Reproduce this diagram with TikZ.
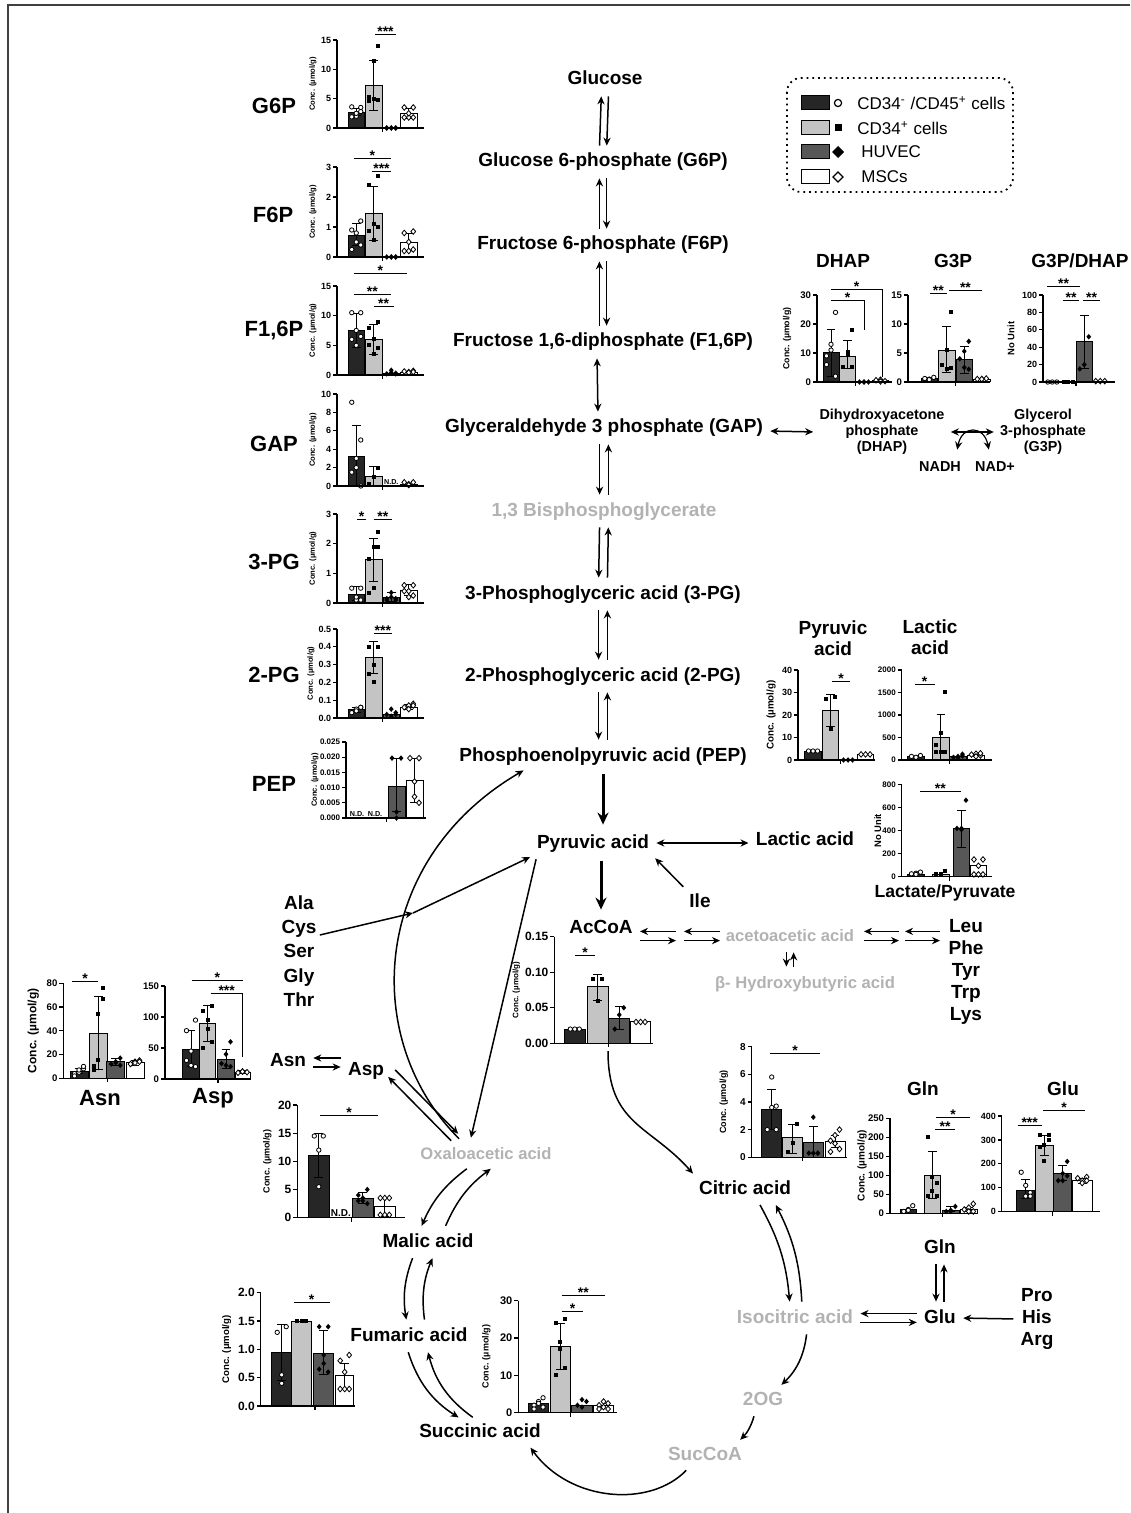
\documentclass[tikz,border=0pt]{standalone}
\usepackage{fontspec}
\setmainfont{Liberation Sans}
\usetikzlibrary{arrows.meta}
\definecolor{cdA}{HTML}{262626}
\definecolor{cdB}{HTML}{C4C4C4}
\definecolor{cdC}{HTML}{575757}
\definecolor{faded}{HTML}{B2B2B2}
\tikzset{
  >={Stealth[length=4pt,width=3.6pt]},
  met/.style={font=\fontsize{9.5}{11}\selectfont\bfseries, text height=7pt, text depth=2pt, inner sep=1.5pt},
  metg/.style={met, text=faded},
  metl/.style={met, text=faded, font=\fontsize{8.3}{10}\selectfont\bfseries},
  mets/.style={font=\fontsize{9.5}{11}\selectfont\bfseries, align=center, inner sep=1.5pt},
  smet/.style={font=\fontsize{7.2}{8}\selectfont\bfseries, align=center, inner sep=1pt},
  ttl/.style={font=\fontsize{11}{13}\selectfont\bfseries},
  leg/.style={font=\fontsize{8.5}{10}\selectfont, anchor=west, inner sep=0pt},
  rx/.style={->, line width=0.75pt, shorten >=2pt, shorten <=2pt},
  rxs/.style={->, line width=0.75pt},
  rxx/.style={rx, <->},
  big/.style={-{Stealth[length=6pt,width=5.5pt]}, line width=1.5pt, shorten >=3pt, shorten <=3pt},
  axl/.style={line width=0.55pt},
  barA/.style={draw=black, fill=cdA, line width=0.5pt},
  barB/.style={draw=black, fill=cdB, line width=0.5pt},
  barC/.style={draw=black, fill=cdC, line width=0.5pt},
  barD/.style={draw=black, fill=white, line width=0.5pt},
  errb/.style={line width=0.5pt},
  sigl/.style={line width=0.5pt},
  tick/.style={font=\fontsize{\tfs}{\tfs}\selectfont\bfseries, anchor=east, inner sep=0.7pt},
  ylab/.style={font=\fontsize{\yfs}{\yfs}\selectfont\bfseries, rotate=90},
  star/.style={font=\fontsize{7}{7}\selectfont\bfseries, anchor=south, inner sep=0pt, yshift=-1.2pt},
  nd/.style={font=\fontsize{3.6}{4}\selectfont\bfseries, anchor=south, inner sep=0.6pt},
}
% chart helpers: data coordinates inside a shifted scope
\newcommand{\tfs}{4.5}
\newcommand{\yfs}{3.8}
\newcommand{\cn}{c}
\newcounter{sgc}
\newcommand{\cbar}[4]{\draw[#1] (#2,0) rectangle ++(#3,#4);}
\newcommand{\ebar}[3]{\draw[errb] (#1,#2) -- (#1,#3) ++(-2.2pt,0pt) -- ++(4.4pt,0pt) (#1,#2) ++(-2.2pt,0pt) -- ++(4.4pt,0pt);}
\newcommand{\ptA}[2]{\draw[fill=white, line width=0.4pt] (#1,#2) circle (1.1pt);}
\newcommand{\ptB}[2]{\fill (#1,#2) ++(-1pt,-1pt) rectangle ++(2pt,2pt);}
\newcommand{\ptC}[2]{\fill (#1,#2) ++(0pt,1.4pt) -- ++(1.2pt,-1.4pt) -- ++(-1.2pt,-1.4pt) -- ++(-1.2pt,1.4pt) -- cycle;}
\newcommand{\ptD}[2]{\draw[fill=white, line width=0.4pt] (#1,#2) ++(0pt,1.4pt) -- ++(1.2pt,-1.4pt) -- ++(-1.2pt,-1.4pt) -- ++(-1.2pt,1.4pt) -- cycle;}
\newcommand{\pts}[3]{\foreach \v [count=\i] in {#3}{\pgfmathsetmacro\dx{#2+mod(\i,3)*4.5-4.5}\csname pt#1\endcsname{\dx}{\v}}}
\newcommand{\yax}[2]{\draw[axl] (0,#1) -- (0,0);
  \foreach \v/\l [count=\k] in {#2}{\draw[axl] (0,\v) -- ++(-2pt,0pt) node[tick] (\cn t\k) {\l};}}
\newcommand{\xax}[2]{\draw[axl] (0,0) -- (#1,0) (#2,0) -- ++(0pt,-2pt);}
\newcommand{\sig}[4]{\stepcounter{sgc}\draw[sigl] (#1,#3) -- node[star] (sg\arabic{sgc}) {#4} (#2,#3);}
\newcommand{\sigd}[5]{\stepcounter{sgc}\draw[sigl] (#1,#3) -- node[star] (sg\arabic{sgc}) {#5} (#2,#3) -- (#2,#4);}

\begin{document}
\begin{tikzpicture}[x=0.5pt, y=-0.5pt]
\useasboundingbox (0,0) rectangle (1130,1513);
\draw[line width=0.6pt, black!75] (8,1513) -- (8,5) -- (1130,5);

% legend
\draw[dotted, line width=0.9pt, rounded corners=7pt] (787,78) rectangle (1013,192);
\draw[barA] (801,96) rectangle (829,110);
\draw[fill=white, line width=0.6pt] (838,103) circle (1.8pt);
\node[leg] (lg1) at (857,103) {CD34\textsuperscript{-} /CD45\textsuperscript{+} cells};
\draw[barB] (801,121) rectangle (829,135);
\fill (834.5,124.5) rectangle (841.5,131.5);
\node[leg] (lg2) at (857,128) {CD34\textsuperscript{+} cells};
\draw[barC] (801,145) rectangle (829,159);
\fill (838,146) -- (844,152) -- (838,158) -- (832,152) -- cycle;
\node[leg] (lg3) at (861,152) {HUVEC};
\draw[barD] (801,170) rectangle (829,184);
\draw[fill=white, line width=0.6pt] (838,172) -- (843,177) -- (838,182) -- (833,177) -- cycle;
\node[leg] (lg4) at (861,177) {MSCs};

% pathway
\node[met] (glc) at (605,80) {Glucose};
\node[met] (g6p) at (603,162) {Glucose 6-phosphate (G6P)};
\node[met] (f6p) at (603,245) {Fructose 6-phosphate (F6P)};
\node[met] (f16p) at (603,342) {Fructose 1,6-diphosphate (F1,6P)};
\node[met] (gap) at (604,428) {Glyceraldehyde 3 phosphate (GAP)};
\node[metg] (bpg) at (604,511) {1,3 Bisphosphoglycerate};
\node[met] (pg3) at (603,594) {3-Phosphoglyceric acid (3-PG)};
\node[met] (pg2) at (603,676) {2-Phosphoglyceric acid (2-PG)};
\node[met] (pep) at (603,756) {Phosphoenolpyruvic acid (PEP)};
\node[met] (pyr) at (593,843) {Pyruvic acid};
\node[met] (lac) at (805,840) {Lactic acid};
\node[met] (accoa) at (601,928) {AcCoA};
\node[metl] (acac) at (790,936) {acetoacetic acid};
\node[metl] (bhb) at (805,983) {β- Hydroxybutyric acid};
\node[mets] (leu) at (966,972) {Leu\\Phe\\Tyr\\Trp\\Lys};
\node[mets, font=\fontsize{9.5}{12.1}\selectfont\bfseries] (aa) at (299,951) {Ala\\Cys\\Ser\\Gly\\Thr};
\node[met] (ile) at (700,902) {Ile};
\node[met] (asn) at (288,1061) {Asn};
\node[met] (asp) at (366,1070) {Asp};
\node[metl] (oaa) at (486,1154) {Oxaloacetic acid};
\node[met] (cit) at (745,1189) {Citric acid};
\node[met] (mal) at (428,1242) {Malic acid};
\node[met] (fum) at (409,1336) {Fumaric acid};
\node[met] (suc) at (480,1432) {Succinic acid};
\node[metg] (iso) at (795,1318) {Isocitric acid};
\node[metg] (og) at (763,1400) {2OG};
\node[metg] (scoa) at (705,1455) {SucCoA};
\node[met] (gln) at (940,1248) {Gln};
\node[met] (glu) at (940,1318) {Glu};
\node[mets] (pha) at (1037,1319) {Pro\\His\\Arg};
\node[smet] (dhap) at (882,432) {Dihydroxyacetone\\phosphate\\(DHAP)};
\node[smet] (g3p) at (1043,432) {Glycerol\\3-phosphate\\(G3P)};
\node[smet] (nadh) at (940,467) {NADH};
\node[smet] (nadp) at (995,467) {NAD+};

% glycolysis arrows
\draw[rx] ([xshift=-1.8pt]g6p.north) -- ([xshift=-1.8pt]glc.south);
\draw[rx] ([xshift=1.8pt]glc.south) -- ([xshift=1.8pt]g6p.north);
\draw[rx] ([xshift=-1.8pt]f6p.north) -- ([xshift=-1.8pt]g6p.south);
\draw[rx] ([xshift=1.8pt]g6p.south) -- ([xshift=1.8pt]f6p.north);
\draw[rx] ([xshift=-1.8pt]f16p.north) -- ([xshift=-1.8pt]f6p.south);
\draw[rx] ([xshift=1.8pt]f6p.south) -- ([xshift=1.8pt]f16p.north);
\draw[rxx] ([xshift=-3pt]f16p.south) -- ([xshift=-3pt]gap.north);
\draw[rx] ([xshift=-2.2pt]gap.south) -- ([xshift=-2.2pt]bpg.north);
\draw[rx] ([xshift=2.2pt]bpg.north) -- ([xshift=2.2pt]gap.south);
\draw[rx] ([xshift=-2.2pt]bpg.south) -- ([xshift=-2.2pt]pg3.north);
\draw[rx] ([xshift=2.2pt]pg3.north) -- ([xshift=2.2pt]bpg.south);
\draw[rx] ([xshift=-2.2pt]pg3.south) -- ([xshift=-2.2pt]pg2.north);
\draw[rx] ([xshift=2.2pt]pg2.north) -- ([xshift=2.2pt]pg3.south);
\draw[rx] ([xshift=-2.2pt]pg2.south) -- ([xshift=-2.2pt]pep.north);
\draw[rx] ([xshift=2.2pt]pep.north) -- ([xshift=2.2pt]pg2.south);
\draw[big] (pep.south) -- (pep.south |- pyr.north);
\draw[big] (accoa.north |- pyr.south) -- (accoa.north);
\draw[rxx] (pyr.east) -- (pyr.east -| lac.west);
\draw[rxx] ([yshift=-1.5pt]gap.east) -- (dhap.west);
\draw[rxx] (dhap.east) -- (g3p.west);
\draw[<->, line width=0.6pt] ([xshift=-3pt,yshift=5pt]nadh.north east) .. controls (962,425) and (984,425) .. ([xshift=8pt,yshift=5pt]nadp.north west);

% ketone bodies
\coordinate (ka1) at (640,936); \coordinate (ka2) at (676,936);
\coordinate (ka3) at (684,936); \coordinate (ka4) at (720,936);
\coordinate (kb1) at (864,936); \coordinate (kb2) at (899,936);
\coordinate (kb3) at (905,936); \coordinate (kb4) at (940,936);
\draw[rxs] ([yshift=2.3pt]ka2) -- ([yshift=2.3pt]ka1);
\draw[rxs] ([yshift=-2.3pt]ka1) -- ([yshift=-2.3pt]ka2);
\draw[rxs] ([yshift=2.3pt]ka4) -- ([yshift=2.3pt]ka3);
\draw[rxs] ([yshift=-2.3pt]ka3) -- ([yshift=-2.3pt]ka4);
\draw[rxs] ([yshift=2.3pt]kb2) -- ([yshift=2.3pt]kb1);
\draw[rxs] ([yshift=-2.3pt]kb1) -- ([yshift=-2.3pt]kb2);
\draw[rxs] ([yshift=2.3pt]kb4) -- ([yshift=2.3pt]kb3);
\draw[rxs] ([yshift=-2.3pt]kb3) -- ([yshift=-2.3pt]kb4);
\path (acac.south |- bhb.north) coordinate (bhbn);
\draw[rx] ([xshift=-1.8pt]acac.south) -- ([xshift=-1.8pt]bhbn);
\draw[rx] ([xshift=1.8pt]bhbn) -- ([xshift=1.8pt]acac.south);

% amino acids and oxaloacetate links
\draw[rx] (ile.north west) -- (pyr.south east);
\coordinate (aam) at (413,913);
\draw[rxs] ([yshift=8pt]aa.east) -- (aam);
\draw[rx, shorten <=0pt] (aam) -- (pyr.south west);
\draw[rx] ([xshift=-12pt]oaa.north) .. controls (360,1040) and (370,860) .. ([xshift=-38pt]pep.south);
\draw[rx] ([xshift=-28pt]pyr.south) -- ([xshift=-8pt]oaa.north);
\draw[rx] ([xshift=-16pt,yshift=-1pt]oaa.north) -- ([xshift=-1pt,yshift=-2pt]asp.east);
\draw[rx] ([xshift=2.5pt,yshift=1.5pt]asp.east) -- ([xshift=-12.5pt,yshift=2.5pt]oaa.north);
\draw[rx] ([yshift=6pt]asp.west) -- ([yshift=1.5pt]asn.east);
\draw[rx] ([yshift=-3pt]asn.east) -- ([yshift=1.5pt]asp.west);

% TCA cycle
\coordinate (acbot) at (608,1047);
\draw[rx] (acbot) .. controls (608,1125) and (650,1125) .. (cit.north west);
\draw[rx] ([xshift=6.5pt]cit.south) to[bend left=12] ([xshift=-2.5pt]iso.north);
\draw[rx] ([xshift=3.5pt]iso.north) to[bend right=12] ([xshift=14.5pt]cit.south);
\draw[rx] ([xshift=6pt]iso.south) to[bend left=20] ([xshift=-4pt]og.north east);
\draw[rx] ([xshift=-4pt]og.south) to[bend left=15] ([xshift=-4pt]scoa.north east);
\draw[rx] ([xshift=-8pt]scoa.south) .. controls (650,1508) and (570,1502) .. ([xshift=-8pt]suc.south east);
\draw[rx] ([xshift=-1pt]fum.south) to[bend right=20] ([xshift=-9pt]suc.north);
\draw[rx] ([xshift=-2pt]suc.north) to[bend left=20] ([xshift=9pt]fum.south);
\draw[rx] ([xshift=-7pt]mal.south) to[bend right=15] ([xshift=-1pt]fum.north);
\draw[rx] ([xshift=8pt]fum.north) to[bend left=15] ([xshift=3pt]mal.south);
\draw[rx] ([xshift=-8pt]oaa.south) to[bend right=15] ([xshift=-4pt]mal.north);
\draw[rx] ([xshift=8pt]mal.north) to[bend left=15] ([xshift=4pt]oaa.south);
\draw[rx] ([xshift=-2pt]gln.south) -- ([xshift=-2pt]glu.north);
\draw[rx] ([xshift=2pt]glu.north) -- ([xshift=2pt]gln.south);
\draw[rx] ([yshift=2.2pt]glu.west) -- ([yshift=2.2pt]iso.east);
\draw[rx] ([yshift=-2.2pt]iso.east) -- ([yshift=-2.2pt]glu.west);
\draw[rx] (pha.west) -- (glu.east);

% ---- G6P
\node[ttl] (tg6p) at (274,106) {G6P};
\begin{scope}[shift={(337,128)}, y=2.933pt]
\def\cn{g6pc}
\cbar{barA}{11}{16.5}{2.7}\cbar{barB}{28.5}{16.5}{7.2}\cbar{barC}{46}{16.5}{0.05}\cbar{barD}{63.5}{16.5}{2.4}
\ebar{19.25}{2.1}{3.3}\ebar{36.75}{2.9}{11.5}\ebar{71.75}{1.6}{3.3}
\pts{A}{19.25}{2.0,2.8,3.6,2.5,3.5,1.9}
\pts{B}{36.75}{5.0,14,4.6,11.5,4.8,5.2}
\pts{C}{54.25}{0,0,0,0,0,0}
\pts{D}{71.75}{1.8,3.5,3.5,2.5,1.8,1.8}
\yax{15}{0/0,5/5,10/10,15/15}\xax{87}{45.5}
\sig{38}{59}{15.9}{***}
\node[ylab] (\cn y) at (-24,7.5) {Conc. (µmol/g)};
\end{scope}

% ---- F6P
\node[ttl] (tf6p) at (273,215) {F6P};
\begin{scope}[shift={(337,257)}, y=15pt]
\def\cn{f6pc}
\cbar{barA}{11}{16.5}{0.72}\cbar{barB}{28.5}{16.5}{1.45}\cbar{barC}{46}{16.5}{0.03}\cbar{barD}{63.5}{16.5}{0.47}
\ebar{19.25}{0.38}{1.1}\ebar{36.75}{0.55}{2.35}\ebar{71.75}{0.2}{0.78}
\pts{A}{19.25}{0.5,1.2,0.25,0.8,0.4,0.9}
\pts{B}{36.75}{1.1,2.7,2.4,0.55,1.0,0.85}
\pts{C}{54.25}{0,0,0,0,0}
\pts{D}{71.75}{0.5,0.85,0.8,0.2,0.25,0.2}
\yax{3}{0/0,1/1,2/2,3/3}\xax{87}{45.5}
\sig{16.6}{54}{3.29}{*}\sig{35}{54}{2.84}{***}
\node[ylab] (\cn y) at (-24,1.5) {Conc. (µmol/g)};
\end{scope}

% ---- F1,6P
\node[ttl] (tf16p) at (274,331) {F1,6P};
\begin{scope}[shift={(337,375)}, y=2.967pt]
\def\cn{fbpc}
\cbar{barA}{11}{16.5}{7.5}\cbar{barB}{28.5}{16.5}{6.0}\cbar{barC}{46}{16.5}{0.3}\cbar{barD}{63.5}{16.5}{0.5}
\ebar{19.25}{4.7}{10.3}\ebar{36.75}{3.4}{8.5}
\pts{A}{19.25}{7.5,10.5,10.5,5.0,6.5,6.0}
\pts{B}{36.75}{6.0,9.0,8.0,3.5,4.5,5.0}
\pts{C}{54.25}{0.8,0.3,0.2,0.4,0.2}
\pts{D}{71.75}{0.5,0.7,0.6,0.4,0.5}
\yax{15}{0/0,5/5,10/10,15/15}\xax{87}{45.5}
\sig{16.6}{70}{17.1}{*}\sig{16.6}{54}{13.5}{**}\sig{36.6}{56.6}{11.6}{**}
\node[ylab] (\cn y) at (-24,7.5) {Conc. (µmol/g)};
\end{scope}

% ---- GAP
\node[ttl] (tgap) at (274,444) {GAP};
\begin{scope}[shift={(337,486)}, y=4.6pt]
\def\cn{gapc}
\cbar{barA}{11}{16.5}{3.2}\cbar{barB}{28.5}{16.5}{1.0}\cbar{barD}{63.5}{16.5}{0.2}
\ebar{19.25}{0}{6.6}\ebar{36.75}{0}{2.1}
\pts{A}{19.25}{3.0,5.0,9.1,2.0,0.0,1.5}
\pts{B}{36.75}{1.0,2.0,0.2}
\pts{D}{71.75}{0.2,0.4,0.4,0.1}
\node[nd] (\cn n) at (54.25,0) {N.D.};
\yax{10}{0/0,2/2,4/4,6/6,8/8,10/10}\xax{87}{45.5}
\node[ylab] (\cn y) at (-24,5) {Conc. (µmol/g)};
\end{scope}

% ---- 3-PG
\node[ttl] (tpg3) at (274,562) {3-PG};
\begin{scope}[shift={(337,603)}, y=14.83pt]
\def\cn{pgcc}
\cbar{barA}{11}{16.5}{0.3}\cbar{barB}{28.5}{16.5}{1.45}\cbar{barC}{46}{16.5}{0.17}\cbar{barD}{63.5}{16.5}{0.42}
\ebar{19.25}{0.1}{0.55}\ebar{36.75}{0.72}{2.18}\ebar{54.25}{0.05}{0.35}\ebar{71.75}{0.25}{0.62}
\pts{A}{19.25}{0.1,0.5,0.5,0.2,0.1}
\pts{B}{36.75}{1.9,2.4,1.5,0.5,1.9,0.35}
\pts{C}{54.25}{0.35,0.15,0.1,0.2,0.1,0.15}
\pts{D}{71.75}{0.4,0.6,0.6,0.2,0.25,0.4}
\yax{3}{0/0,1/1,2/2,3/3}\xax{87}{45.5}
\sig{20}{29}{2.8}{*}\sig{36.6}{55}{2.8}{**}
\node[ylab] (\cn y) at (-24,1.5) {Conc. (µmol/g)};
\end{scope}

% ---- 2-PG
\node[ttl] (tpg2) at (274,675) {2-PG};
\begin{scope}[shift={(337,718)}, y=89pt]
\def\cn{pgbc}
\cbar{barA}{11}{16.5}{0.045}\cbar{barB}{28.5}{16.5}{0.34}\cbar{barC}{46}{16.5}{0.02}\cbar{barD}{63.5}{16.5}{0.06}
\ebar{19.25}{0.03}{0.06}\ebar{36.75}{0.25}{0.43}\ebar{71.75}{0.045}{0.075}
\pts{A}{19.25}{0.05,0.06,0.03,0.04,0.06}
\pts{B}{36.75}{0.30,0.40,0.40,0.20,0.40,0.25}
\pts{C}{54.25}{0.05,0.03,0.02,0.01,0.02}
\pts{D}{71.75}{0.07,0.08,0.06,0.05,0.07}
\yax{0.5}{0/0.0,0.1/0.1,0.2/0.2,0.3/0.3,0.4/0.4,0.5/0.5}\xax{87}{45.5}
\sig{36.6}{55}{0.476}{***}
\node[ylab] (\cn y) at (-26,0.25) {Conc. (µmol/g)};
\end{scope}

% ---- PEP
\node[ttl] (tpep) at (274,784) {PEP};
\begin{scope}[shift={(346,818)}, y=1520pt]
\def\cn{pepc}\def\tfs{4}
\cbar{barC}{42}{17}{0.0105}\cbar{barD}{60}{17}{0.0122}
\ebar{50.5}{0.002}{0.0197}\ebar{68.5}{0.005}{0.0197}
\pts{C}{50.5}{0.002,0.0197,0.0197,0.0}
\pts{D}{68.5}{0.012,0.0197,0.0197,0.007,0.005}
\node[nd] (\cn n1) at (11,0) {N.D.}; \node[nd] (\cn n2) at (29,0) {N.D.};
\yax{0.025}{0/0.000,0.005/0.005,0.010/0.010,0.015/0.015,0.020/0.020,0.025/0.025}\xax{80}{40.7}
\node[ylab] (\cn y) at (-31,0.0125) {Conc. (µmol/g)};
\end{scope}

% ---- DHAP
\node[met] (tdhap) at (843,263) {DHAP};
\begin{scope}[shift={(817,382)}, y=1.45pt]
\def\cn{dhc}\def\tfs{4.8}\def\yfs{4.4}
\cbar{barA}{6}{16}{10}\cbar{barB}{22.5}{16}{8.8}\cbar{barD}{55.5}{16}{0.5}
\ebar{14}{2}{18}\ebar{30.5}{4.5}{14.2}
\pts{A}{14}{13,24,6,11,2,9}
\pts{B}{30.5}{10.5,18,5,9.5,5}
\pts{C}{47}{0,0,0,0}
\pts{D}{63.5}{0.8,0.3,0.6,0.2}
\yax{30}{0/0,10/10,20/20,30/30}\xax{75}{38.5}
\sigd{14}{65}{32}{1.8}{*}\sigd{14}{47.3}{28}{18}{*}
\node[ylab] (\cn y) at (-30,15) {Conc. (µmol/g)};
\end{scope}

% ---- G3P
\node[met] (tg3p) at (953,263) {G3P};
\begin{scope}[shift={(908,382)}, y=2.9pt]
\def\cn{g3c}\def\tfs{4.8}
\cbar{barA}{13}{16.5}{0.6}\cbar{barB}{30.5}{16.5}{5.5}\cbar{barC}{48}{16.5}{3.8}\cbar{barD}{65.5}{16.5}{0.5}
\ebar{38.75}{1.7}{9.5}\ebar{56.25}{1.5}{6.2}
\pts{A}{21.25}{0.5,0.8,0.6,0.4}
\pts{B}{38.75}{5.6,12,3,2.2,2.4}
\pts{C}{56.25}{5.3,7,4,2.5,2.2}
\pts{D}{73.75}{0.5,0.6,0.5,0.5}
\yax{15}{0/0,5/5,10/10,15/15}\xax{82}{47.5}
\sig{22}{38.7}{15.2}{**}\sig{41.3}{73.6}{15.8}{**}
\end{scope}

% ---- G3P/DHAP
\node[met] (tratio) at (1080,263) {G3P/DHAP};
\begin{scope}[shift={(1043,382)}, y=0.435pt]
\def\cn{rtc}\def\yfs{4.7}
\cbar{barB}{17.5}{15.5}{0.8}\cbar{barC}{33.5}{15.5}{47}\cbar{barD}{49.5}{15.5}{0.8}
\ebar{41.25}{15}{77}
\pts{A}{9.25}{0,0,0}
\pts{B}{25.25}{0.5,0.5,0.5,0.5}
\pts{C}{41.25}{20,52,15}
\pts{D}{57.25}{1,1,1}
\yax{100}{0/0,20/20,40/40,60/60,80/80,100/100}\xax{72}{33}
\sig{4.3}{37}{109.5}{**}\sig{19.7}{36.3}{93.4}{**}\sig{40.3}{57}{93.4}{**}
\node[ylab] (\cn y) at (-32,50) {No Unit};
\end{scope}

% ---- pyruvic acid
\node[mets, font=\fontsize{9.5}{10.5}\selectfont\bfseries] (tpyr) at (833,638) {Pyruvic\\acid};
\begin{scope}[shift={(798,760)}, y=1.125pt]
\def\cn{pyc}\def\yfs{4.9}
\cbar{barA}{6.7}{16.7}{4}\cbar{barB}{24.2}{16.7}{22}\cbar{barD}{59.2}{16.7}{2.5}
\ebar{32.55}{15}{29}
\pts{A}{15.05}{4,4,4}
\pts{B}{32.55}{14,28,27}
\pts{C}{50.05}{0,0,0}
\pts{D}{67.55}{2.5,2.5,2.5}
\yax{40}{0/0,10/10,20/20,30/30,40/40}\xax{77}{42.7}
\sig{34.4}{51.7}{34.8}{*}
\node[ylab] (\cn y) at (-27,20) {Conc. (µmol/g)};
\end{scope}

% ---- lactic acid
\node[mets, font=\fontsize{9.5}{10.5}\selectfont\bfseries] (tlac) at (930,637) {Lactic\\acid};
\begin{scope}[shift={(901.7,760)}, y=0.0225pt]
\def\cn{lcc}\def\tfs{4}
\cbar{barA}{6}{16.5}{70}\cbar{barB}{31}{16.5}{490}\cbar{barC}{48}{16.5}{70}\cbar{barD}{66}{16.5}{110}
\ebar{39.25}{0}{1020}
\pts{A}{14.25}{50,100,80,60}
\pts{B}{39.25}{600,1520,330,180,180,180}
\pts{C}{56.25}{80,130,60,50,90}
\pts{D}{74.25}{140,100,120,80,150}
\yax{2000}{0/0,500/500,1000/1000,1500/1500,2000/2000}\xax{90}{48}
\sig{13}{33}{1667}{*}
\end{scope}

% ---- lactate / pyruvate
\node[met, font=\fontsize{8.8}{10}\selectfont\bfseries] (tlp) at (945,892) {Lactate/Pyruvate};
\begin{scope}[shift={(901.7,876.7)}, y=0.0575pt]
\def\cn{lpc}\def\tfs{4}\def\yfs{4.7}
\cbar{barA}{6}{16.5}{20}\cbar{barB}{31}{16.5}{20}\cbar{barC}{51.5}{16.5}{415}\cbar{barD}{68.5}{16.5}{95}
\ebar{59.75}{250}{580}
\pts{A}{14.25}{30,40,25,20}
\pts{B}{39.25}{20,50,25}
\pts{C}{59.75}{420,665,420,410}
\pts{D}{76.75}{95,150,150,20,20,20}
\yax{800}{0/0,200/200,400/400,600/600,800/800}\xax{90}{48}
\sig{18.3}{59}{739}{**}
\node[ylab] (\cn y) at (-24,400) {No Unit};
\end{scope}

% ---- Asn
\node[ttl] (tasn) at (100,1098) {Asn};
\begin{scope}[shift={(63.3,1078.3)}, y=0.594pt]
\def\cn{asnc}\def\tfs{4.8}\def\yfs{6}
\cbar{barA}{6.7}{18}{6}\cbar{barB}{26}{18}{38}\cbar{barC}{43.4}{18}{14}\cbar{barD}{62.7}{18}{13}
\ebar{15.7}{4}{8}\ebar{35}{7}{69}\ebar{52.4}{11}{17}\ebar{71.7}{11}{15}
\pts{A}{15.7}{5,8,4,7,10,2}
\pts{B}{35}{54,76,10,15,67,7}
\pts{C}{52.4}{14,17,12,13,11}
\pts{D}{71.7}{14,15,12,13,14}
\yax{80}{0/0,20/20,40/40,60/60,80/80}\xax{80}{44}
\sig{8.4}{35}{81.3}{*}
\node[ylab] (\cn y) at (-30,40) {Conc. (µmol/g)};
\end{scope}

% ---- Asp
\node[ttl] (tasp) at (213,1098) {Asp};
\begin{scope}[shift={(165,1079)}, y=0.31pt]
\def\cn{aspc}\def\tfs{4.8}
\cbar{barA}{17.7}{16.5}{48}\cbar{barB}{34.3}{16.5}{90}\cbar{barC}{52.7}{16.5}{32}\cbar{barD}{70}{15}{11}
\ebar{26}{20}{78}\ebar{42.5}{60}{118}\ebar{61}{17}{47}\ebar{77.5}{9}{13}
\pts{A}{26}{45,95,78,22,20,30}
\pts{B}{42.5}{95,118,110,80,60,50}
\pts{C}{61}{40,60,25,22,20}
\pts{D}{77.5}{12,11,10,12}
\yax{150}{0/0,50/50,100/100,150/150}\xax{85}{53}
\sig{26.7}{78}{158.5}{*}\sigd{45.7}{77.7}{138.2}{36}{***}
\end{scope}

% ---- AcCoA
\begin{scope}[shift={(554.3,1043.3)}, y=355.6pt]
\def\cn{acc}\def\tfs{6}\def\yfs{4}
\cbar{barA}{10}{21}{0.02}\cbar{barB}{33}{21}{0.08}\cbar{barC}{54.5}{21}{0.035}\cbar{barD}{76.5}{19.5}{0.03}
\ebar{43.5}{0.06}{0.097}\ebar{65}{0.02}{0.052}
\pts{A}{20.5}{0.02,0.02,0.02}
\pts{B}{43.5}{0.06,0.091,0.091}
\pts{C}{65}{0.04,0.05,0.02}
\pts{D}{86.25}{0.03,0.03,0.03}
\yax{0.15}{0/0.00,0.05/0.05,0.10/0.10,0.15/0.15}\xax{99}{54}
\sig{20.7}{41}{0.124}{*}
\node[ylab] (\cn y) at (-38,0.075) {Conc. (µmol/g)};
\end{scope}

% ---- citric acid
\begin{scope}[shift={(751.7,1157.3)}, y=6.92pt]
\def\cn{citc}\def\tfs{5}\def\yfs{4.5}
\cbar{barA}{10}{20}{3.45}\cbar{barB}{31}{20}{1.4}\cbar{barC}{51.6}{20}{1.05}\cbar{barD}{73.3}{20}{1.15}
\ebar{20}{2.0}{4.9}\ebar{41}{0.3}{2.4}\ebar{61.6}{0}{2.2}\ebar{83.3}{0.7}{1.6}
\pts{A}{20}{3.6,3.7,2.0,5.8,2.0}
\pts{B}{41}{1.0,2.4,0.4}
\pts{C}{61.6}{0.3,0.3,0.3,2.9,0.3}
\pts{D}{83.3}{1.6,2.0,1.2,1.0,0.6,0.4}
\yax{8}{0/0,2/2,4/4,6/6,8/8}\xax{95}{51}
\sig{18.3}{68.3}{7.5}{*}
\node[ylab] (\cn y) at (-28,4) {Conc. (µmol/g)};
\end{scope}

% ---- Gln
\node[met] (tgln) at (923,1090) {Gln};
\begin{scope}[shift={(890,1213.3)}, y=0.19pt]
\def\cn{glnc}\def\tfs{4.8}\def\yfs{5}
\cbar{barA}{10}{16.5}{10}\cbar{barB}{34}{16.5}{100}\cbar{barC}{52.5}{16.5}{8}\cbar{barD}{70.5}{16.5}{10}
\ebar{42.25}{38}{163}\ebar{60.75}{5}{18}\ebar{78.75}{5}{15}
\pts{A}{18.25}{10,20,5,8}
\pts{B}{42.25}{95,80,200,60,45,45}
\pts{C}{60.75}{8,18,5,5}
\pts{D}{78.75}{15,25,10,5,5}
\yax{250}{0/0,50/50,100/100,150/150,200/200,250/250}\xax{87}{52.7}
\sig{46}{80}{252.6}{*}\sig{45}{65}{221}{**}
\node[ylab] (\cn y) at (-28,125) {Conc. (µmol/g)};
\end{scope}

% ---- Glu
\node[met] (tglu) at (1063,1090) {Glu};
\begin{scope}[shift={(1001.7,1211.7)}, y=0.1196pt]
\def\cn{gluc}
\cbar{barA}{15}{18}{90}\cbar{barB}{33.5}{18}{275}\cbar{barC}{52}{18}{160}\cbar{barD}{70.5}{20}{130}
\ebar{24}{55}{135}\ebar{42.5}{235}{320}\ebar{61}{130}{195}\ebar{80.5}{120}{140}
\pts{A}{24}{110,80,165,65,65}
\pts{B}{42.5}{280,320,320,210,300,270}
\pts{C}{61}{160,210,130,130,150}
\pts{D}{80.5}{130,145,140,120,130}
\yax{400}{0/0,100/100,200/200,300/300,400/400}\xax{98}{51}
\sig{16}{40}{362}{***}\sig{41.6}{83.3}{422}{*}
\end{scope}

% ---- oxaloacetic acid
\begin{scope}[shift={(297.3,1217.7)}, y=2.8175pt]
\def\cn{oac}\def\tfs{6}\def\yfs{4.5}
\cbar{barA}{11}{21}{11}\cbar{barC}{55}{21}{3.4}\cbar{barD}{77}{21}{2.0}
\ebar{21.5}{7.2}{15}\ebar{65.5}{2.5}{4.5}\ebar{87.5}{0.2}{3.5}
\pts{A}{21.5}{12,14.5,14.5,5.5}
\pts{C}{65.5}{3.5,5,4,3,2.5,3}
\pts{D}{87.5}{3.5,3.5,3.5,0.5,0.5,0.5}
\node[nd, font=\fontsize{5}{6}\selectfont\bfseries] (\cn n) at (43.5,0) {N.D.};
\yax{20}{0/0,5/5,10/10,15/15,20/20}\xax{108}{54.4}
\sig{22.7}{81}{18.05}{*}
\node[ylab] (\cn y) at (-30,10) {Conc. (µmol/g)};
\end{scope}

% ---- fumaric acid
\begin{scope}[shift={(260.7,1406)}, y=28.33pt]
\def\cn{fuc}\def\tfs{6}\def\yfs{4.8}
\cbar{barA}{11}{20}{0.95}\cbar{barB}{31}{20}{1.5}\cbar{barC}{53}{20}{0.93}\cbar{barD}{75}{18}{0.53}
\ebar{21}{0.45}{1.43}\ebar{63}{0.55}{1.33}\ebar{84}{0.3}{0.75}
\pts{A}{21}{0.55,1.4,1.3,0.4}
\pts{B}{41}{1.5,1.5,1.5}
\pts{C}{63}{0.9,1.4,1.4,0.75,0.6,0.65}
\pts{D}{84}{0.6,0.9,0.8,0.3,0.3,0.3}
\yax{2}{0/0.0,0.5/0.5,1/1.0,1.5/1.5,2/2.0}\xax{94}{54.3}
\sig{33}{69}{1.82}{*}
\node[ylab] (\cn y) at (-34,1) {Conc. (µmol/g)};
\end{scope}

% ---- succinic acid
\begin{scope}[shift={(518.3,1412.7)}, y=1.867pt]
\def\cn{scc}\def\tfs{5.5}\def\yfs{4.5}
\cbar{barA}{10}{20.5}{2.5}\cbar{barB}{31.7}{20.5}{17.8}\cbar{barC}{53.4}{20.5}{2.0}\cbar{barD}{75}{20.5}{1.9}
\ebar{41.95}{11.5}{24}
\pts{A}{20.25}{3,4,2,2.5,1.5,1}
\pts{B}{41.95}{19,25,24,17,12,10}
\pts{C}{63.65}{3.5,3,2,1.5}
\pts{D}{85.25}{3,2.5,2,1.5,1,1}
\yax{30}{0/0,10/10,20/20,30/30}\xax{98.4}{52.4}
\sig{43.4}{86.7}{31.3}{**}\sig{43.4}{65}{27.1}{*}
\node[ylab] (\cn y) at (-32,15) {Conc. (µmol/g)};
\end{scope}
\end{tikzpicture}
\end{document}
